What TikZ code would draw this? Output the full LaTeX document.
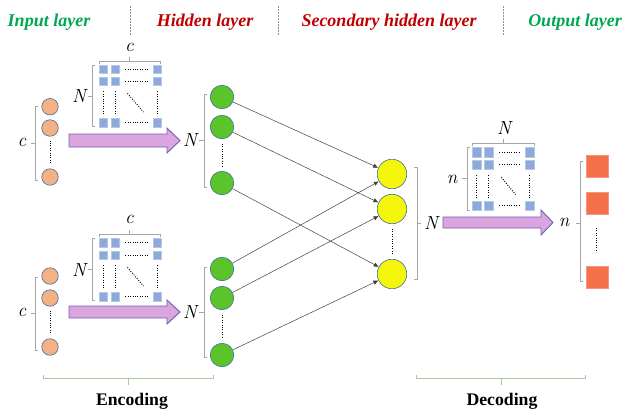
\documentclass[tikz,border=0pt]{standalone}
\usepackage{fontspec}
\setmainfont{Liberation Serif}
\newfontfamily\lmfont{Latin Modern Roman}
\usetikzlibrary{arrows.meta}
\definecolor{hgreen}{HTML}{00A651}
\definecolor{hred}{HTML}{C00000}
\definecolor{inorange}{HTML}{F4B183}
\definecolor{cborder}{HTML}{41719C}
\definecolor{hidgreen}{HTML}{5CC42B}
\definecolor{secyellow}{HTML}{F5F50A}
\definecolor{sqblue}{HTML}{8EA9DB}
\definecolor{sqborder}{HTML}{B4C7E7}
\definecolor{arrfill}{HTML}{DBA5E0}
\definecolor{arrborder}{HTML}{6F5FB0}
\definecolor{outred}{HTML}{F4714B}
\definecolor{brgray}{HTML}{A6A6A6}
\definecolor{brgreen}{HTML}{A9C99A}
\newcommand\wmat[8]{%
  \foreach \cx [count=\i] in {#2,#3,#4}{%
    \foreach \cy [count=\j] in {#5,#6,#7}{%
      \node[#8] (#1-\j-\i) at (\cx,\cy) {};
    }}%
  \foreach \r in {1,2,3}{\draw[dots] ([xshift=6pt]#1-\r-2.east) -- ([xshift=-5pt]#1-\r-3.west);}
  \foreach \c in {1,2,3}{\draw[dots] ([yshift=-6pt]#1-2-\c.south) -- ([yshift=3pt]#1-3-\c.north);}
  \draw[dots] ([shift={(8pt,-8pt)}]#1-2-2.south east) -- ([shift={(-9pt,6pt)}]#1-3-3.north west);
}
\begin{document}
\begin{tikzpicture}[x=1pt,y=-1pt,
  head/.style={font=\fontsize{18}{21}\selectfont\bfseries\itshape, anchor=base, inner sep=0},
  foot/.style={font=\fontsize{17.7}{21}\selectfont\bfseries, anchor=base, inner sep=0},
  sep/.style={black!45, line width=0.6pt, dash pattern=on 1.5pt off 1.5pt},
  incirc/.style={circle, draw=cborder, fill=inorange, minimum size=16.5pt, inner sep=0, line width=0.6pt},
  hidcirc/.style={circle, draw=cborder, fill=hidgreen, minimum size=23.5pt, inner sep=0, line width=0.6pt},
  seccirc/.style={circle, draw=cborder, fill=secyellow, minimum size=29.5pt, inner sep=0, line width=0.6pt},
  sq/.style={draw=sqborder, fill=sqblue, minimum size=8.5pt, inner sep=0, line width=0.4pt},
  dsq/.style={draw=sqborder, fill=sqblue, minimum size=9.5pt, inner sep=0, line width=0.4pt},
  outsq/.style={draw=outred!75!white, fill=outred, minimum size=22pt, inner sep=0, line width=0.4pt},
  dots/.style={line width=1pt, dash pattern=on 0.9pt off 1.5pt},
  brk/.style={brgray, line width=0.7pt},
  gbrk/.style={brgreen, line width=0.7pt},
  lbl/.style={font=\fontsize{19}{22}\selectfont\lmfont\itshape, inner sep=0},
  conn/.style={draw=black!75, line width=0.5pt, -{Latex[length=5pt,width=4.5pt]}},
  bigarr/.style={fill=arrfill, draw=arrborder, line width=0.9pt, line join=miter}
]
\useasboundingbox (0,0) rectangle (622,413);

% headers
\node[head, text=hgreen] (hin) at (49,26) {Input layer};
\node[head, text=hred] (hhid) at (205,26) {Hidden layer};
\node[head, text=hred] (hsec) at (389,26) {Secondary hidden layer};
\node[head, text=hgreen] (hout) at (575,26) {Output layer};
\draw[sep] (130,6) -- (130,36);
\draw[sep] (278,6) -- (278,36);
\draw[sep] (503,6) -- (503,36);

% ---------- upper encoding ----------
\node[incirc] (a1) at (50,106.7) {};
\node[incirc] (a2) at (50,128) {};
\node[incirc] (a3) at (50,177) {};
\draw[dots] ([yshift=-4pt]a2.south) -- ([yshift=4pt]a3.north);
\draw[brk] (38,106) -- (35,106) -- (35,180) -- (38,180);
\draw[brk] (35,143) -- (31,143);
\node[lbl] (la) at (22,142) {c};

\wmat{m1}{103}{115}{157}{69}{81}{122.5}{sq}
\draw[brk] (99,63.5) -- (99,61) -- (160,61) -- (160,63.5);
\draw[brk] (129.5,61) -- (129.5,57);
\node[lbl] (lm1t) at (129.5,47) {c};
\draw[brk] (94.5,65) -- (92,65) -- (92,126) -- (94.5,126);
\draw[brk] (92,96) -- (88,96);
\node[lbl] (lm1l) at (79,96) {N};

\draw[bigarr] (69,134) -- (167,134) -- (167,128) -- (180,140.5) -- (167,153) -- (167,147) -- (69,147) -- cycle;
\node[lbl] (lh1) at (190,140.5) {N};

\node[hidcirc] (g1) at (222,97) {};
\node[hidcirc] (g2) at (222,127) {};
\node[hidcirc] (g3) at (222,183) {};
\draw[dots] ([yshift=-5pt]g2.south) -- ([yshift=5pt]g3.north);
\draw[brk] (207,94) -- (204,94) -- (204,187) -- (207,187);
\draw[brk] (204,140.5) -- (199,140.5);

% ---------- lower encoding ----------
\node[incirc] (b1) at (50,276) {};
\node[incirc] (b2) at (50,298) {};
\node[incirc] (b3) at (50,347) {};
\draw[dots] ([yshift=-4pt]b2.south) -- ([yshift=4pt]b3.north);
\draw[brk] (38,277) -- (35,277) -- (35,350) -- (38,350);
\draw[brk] (35,313) -- (31,313);
\node[lbl] (lb) at (22,312) {c};

\wmat{m2}{103}{115}{157}{242.5}{255}{296.5}{sq}
\draw[brk] (99,236.5) -- (99,234) -- (160,234) -- (160,236.5);
\draw[brk] (129.5,234) -- (129.5,230);
\node[lbl] (lm2t) at (129.5,219) {c};
\draw[brk] (94.5,238.5) -- (92,238.5) -- (92,300.5) -- (94.5,300.5);
\draw[brk] (92,269.5) -- (88,269.5);
\node[lbl] (lm2l) at (79,270) {N};

\draw[bigarr] (69,306) -- (167,306) -- (167,300) -- (180,312) -- (167,324) -- (167,318) -- (69,318) -- cycle;
\node[lbl] (lh2) at (190,312.5) {N};

\node[hidcirc] (k1) at (222,269) {};
\node[hidcirc] (k2) at (222,298) {};
\node[hidcirc] (k3) at (222,355) {};
\draw[dots] ([yshift=-5pt]k2.south) -- ([yshift=5pt]k3.north);
\draw[brk] (207,267) -- (204,267) -- (204,357) -- (207,357);
\draw[brk] (204,312) -- (199,312);

% ---------- secondary hidden layer ----------
\node[seccirc] (y1) at (392,174) {};
\node[seccirc] (y2) at (392,209) {};
\node[seccirc] (y3) at (392,274) {};
\draw[dots] ([yshift=-5pt]y2.south) -- ([yshift=5pt]y3.north);
\draw[brk] (414,167) -- (417,167) -- (417,279) -- (414,279);
\draw[brk] (417,223) -- (421,223);
\node[lbl] (ly) at (431,223) {N};

\draw[conn] (g1) -- (y1);
\draw[conn] (g2) -- (y2);
\draw[conn] (g3) -- (y3);
\draw[conn] (k1) -- (y1);
\draw[conn] (k2) -- (y2);
\draw[conn] (k3) -- (y3);

% ---------- decoding ----------
\wmat{m3}{476.5}{488.5}{529.5}{152}{164.5}{205.5}{dsq}
\draw[brk] (472,145.5) -- (472,143) -- (534,143) -- (534,145.5);
\draw[brk] (503,143) -- (503,139);
\node[lbl] (lm3t) at (504,128) {N};
\draw[brk] (469.5,147) -- (467,147) -- (467,210) -- (469.5,210);
\draw[brk] (467,178.5) -- (462,178.5);
\node[lbl] (lm3l) at (452,179) {n};

\draw[bigarr] (443,217) -- (541,217) -- (541,210) -- (553,222.5) -- (541,235) -- (541,228) -- (443,228) -- cycle;
\node[lbl] (lo) at (564,222) {n};

\node[outsq] (o1) at (597,166) {};
\node[outsq] (o2) at (597,203) {};
\node[outsq] (o3) at (597,277) {};
\draw[dots] (596,228) -- (596,252);
\draw[brk] (583,161) -- (580,161) -- (580,281) -- (583,281);
\draw[brk] (580,223) -- (576,223);

% ---------- bottom braces ----------
\draw[gbrk] (43,375) -- (43,378) -- (213,378) -- (213,375);
\draw[gbrk] (128,378) -- (128,385);
\node[foot] (enc) at (132,405) {Encoding};
\draw[gbrk] (416,375) -- (416,378) -- (585,378) -- (585,375);
\draw[gbrk] (501,378) -- (501,385);
\node[foot] (dec) at (502,405) {Decoding};
\end{tikzpicture}
\end{document}
